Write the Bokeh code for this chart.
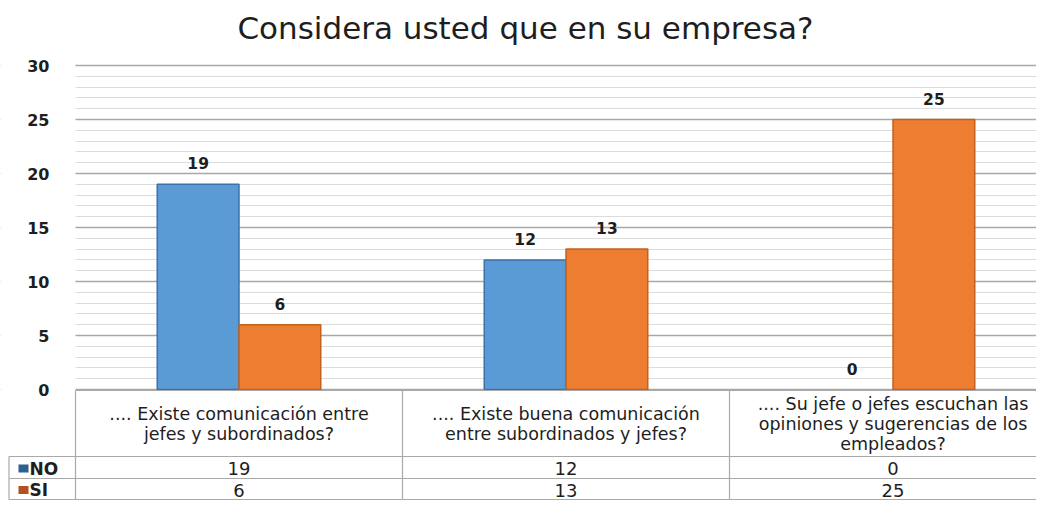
from bokeh.plotting import figure
from bokeh.models import Range1d, FixedTicker, ColumnDataSource
from bokeh.core.properties import value
from bokeh.embed import file_html
from bokeh.resources import INLINE

# ---------------- data ----------------
title_text = "Considera usted que en su empresa?"
categories = [
    ".... Existe comunicación entre\njefes y subordinados?",
    ".... Existe buena comunicación\nentre subordinados y jefes?",
    ".... Su jefe o jefes escuchan las\nopiniones y sugerencias de los\nempleados?",
]
series_names = ["NO", "SI"]
no_values = [19, 12, 0]
si_values = [6, 13, 25]
y_ticks = [0, 5, 10, 15, 20, 25, 30]

# ---------------- geometry ----------------
W, H = 1036, 500
X0 = 75          # px of category 0 left edge
CAT_PX = 327.0   # px per category
Y0 = 389         # px of value 0
UNIT_PX = 10.8   # px per value unit

def dx(px):
    return (px - X0) / CAT_PX

def dy(py):
    return (Y0 - py) / UNIT_PX

n = len(categories)
colors = ["#5B9BD5", "#ED7D31"]
edge = ["#3A73AA", "#C2611E"]
key_colors = ["#2D5F91", "#B4521F"]
FONT = "DejaVu Sans"
TXT = "#1E1E1E"

p = figure(width=W, height=H, output_backend="svg", toolbar_location=None,
           x_range=Range1d(dx(0), dx(W)), y_range=Range1d(dy(H), dy(0)),
           x_axis_type=None, min_border=0, outline_line_color=None)
p.background_fill_color = "white"
p.border_fill_color = "white"

# y axis drawn at category 0 left edge
ticker = FixedTicker(ticks=y_ticks, minor_ticks=list(range(0, 31)))
ax = p.yaxis[0]
ax.ticker = ticker
ax.fixed_location = 0
ax.axis_line_color = None
ax.major_tick_line_color = None
ax.minor_tick_line_color = None
ax.major_tick_out = 0
ax.major_label_standoff = 22
ax.major_label_text_font = FONT
ax.major_label_text_font_style = "bold"
ax.major_label_text_font_size = "16px"
ax.major_label_text_color = TXT

g = p.ygrid[0]
g.ticker = ticker
g.grid_line_color = "#A8A8A8"
g.grid_line_width = 1.3
g.minor_grid_line_color = "#DCDCDC"
g.minor_grid_line_width = 1

# white mask over the area left of the plot area
p.quad(left=[dx(0)], right=[0], bottom=[dy(H)], top=[dy(0)],
       fill_color="white", line_color=None)

# bars
offsets = [-0.125, 0.125]
series_values = [no_values, si_values]
for s, vals in enumerate(series_values):
    xs = [i + 0.5 + offsets[s] for i in range(n)]
    src = ColumnDataSource(dict(x=xs, top=vals, lab=[str(v) for v in vals],
                                ly=[v + 21 / UNIT_PX for v in vals],
                                la=[1.0 if v > 0 else 0.0 for v in vals]))
    p.vbar(x="x", top="top", bottom=0, width=0.25, source=src,
           fill_color=colors[s], line_color=edge[s], line_alpha="la", line_width=1.5)
    p.text(x="x", y="ly", text="lab", source=src, text_align="center",
           text_baseline="middle", text_font=value(FONT),
           text_font_style="bold", text_font_size="15.5px", text_color=TXT)

# title
p.text(x=[dx(525)], y=[dy(27)], text=[title_text], text_align="center",
       text_baseline="middle", text_font=value(FONT),
       text_font_size="31px", text_color=TXT)

# ---------------- data table ----------------
line_c = "#A9A9A9"
top_hdr, row1, row2, bot = 390, 456, 478, 499
right_px = W + 20
lw = 1.2
p.segment(x0=[0], y0=[dy(top_hdr)], x1=[dx(right_px)], y1=[dy(top_hdr)], line_color=line_c, line_width=lw)
p.segment(x0=[dx(8.5)] * 3, y0=[dy(row1), dy(row2), dy(bot)],
          x1=[dx(right_px)] * 3, y1=[dy(row1), dy(row2), dy(bot)],
          line_color=line_c, line_width=lw)
vx = [float(i) for i in range(n)]
p.segment(x0=vx, y0=[dy(top_hdr)] * n, x1=vx, y1=[dy(bot)] * n, line_color=line_c, line_width=lw)
p.segment(x0=[dx(8.5)], y0=[dy(row1)], x1=[dx(8.5)], y1=[dy(bot)], line_color=line_c, line_width=lw)

# header texts
p.text(x=[i + 0.5 for i in range(n)], y=[dy((top_hdr + row1) / 2 + 0.5)] * n, text=categories,
       text_align="center", text_baseline="middle", text_font=value(FONT),
       text_font_size="17.5px", text_color=TXT, text_line_height=1.02)

# value rows + legend keys
row_centers = [(row1 + row2) / 2 + 1, (row2 + bot) / 2 + 1]
for s, vals in enumerate(series_values):
    p.text(x=[i + 0.5 for i in range(n)], y=[dy(row_centers[s])] * n,
           text=[str(v) for v in vals], text_align="center", text_baseline="middle",
           text_font=value(FONT), text_font_size="18px", text_color=TXT)
    cy = row_centers[s]
    p.quad(left=[dx(18)], right=[dx(28)], bottom=[dy(cy + 4)], top=[dy(cy - 4)],
           fill_color=key_colors[s], line_color=None)
    p.text(x=[dx(29)], y=[dy(cy)], text=[series_names[s]], text_align="left",
           text_baseline="middle", text_font=value(FONT), text_font_style="bold",
           text_font_size="17px", text_color=TXT)

open("out.html", "w").write(file_html(p, INLINE))
